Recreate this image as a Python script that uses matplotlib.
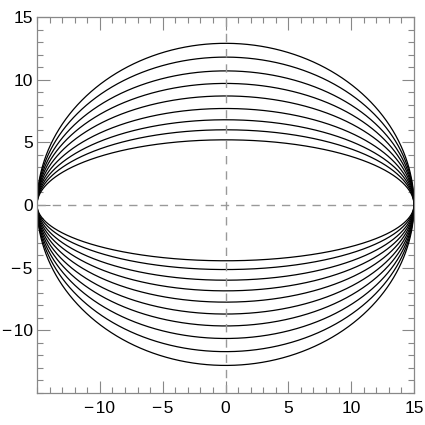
import numpy as np
import matplotlib
matplotlib.use("Agg")
import matplotlib.pyplot as plt
from matplotlib.ticker import MultipleLocator, FixedLocator

# semi-axes (heights) of upper and lower half-ellipses, half-width 15
upper_heights = [12.9, 11.8, 10.7, 9.7, 8.7, 7.7, 6.8, 6.0, 5.2]
lower_heights = [-4.45, -5.15, -6.0, -6.85, -7.75, -8.7, -9.65, -10.65, -11.7, -12.8]
half_width = 15
x_ticks = [-10, -5, 0, 5, 10, 15]
y_ticks = [-10, -5, 0, 5, 10, 15]
x_tick_labels = ['\u2212\u200a10', '\u2212\u200a5', '0', '5', '10', '15']
y_tick_labels = ['\u2212\u200a10', '\u2212\u200a5', '0', '5', '10', '15']

plt.rcParams['font.family'] = ['Liberation Sans', 'DejaVu Sans']
fig = plt.figure(figsize=(4.25, 4.25), dpi=100)
ax = fig.add_axes([37/425, 32/425, 377/425, 376/425])

x = np.linspace(-half_width, half_width, 1201)
for b in upper_heights + lower_heights:
    y = b * np.sqrt(np.clip(1 - (x/half_width)**2, 0, None))
    ax.plot(x, y, color='black', lw=0.9)

ax.axhline(0, color='#999999', lw=1.0, dashes=(6, 5))
ax.axvline(0, color='#999999', lw=1.0, dashes=(6, 5))

ax.set_xlim(-15, 15)
ax.set_ylim(-15, 15)
ax.xaxis.set_major_locator(FixedLocator(x_ticks))
ax.yaxis.set_major_locator(FixedLocator(y_ticks))
ax.set_xticklabels(x_tick_labels)
ax.set_yticklabels(y_tick_labels)
ax.xaxis.set_minor_locator(MultipleLocator(1))
ax.yaxis.set_minor_locator(MultipleLocator(1))
ax.tick_params(which='both', direction='in', top=True, right=True,
               color='#888888', width=0.8)
ax.tick_params(which='major', length=9, labelsize=12.5)
ax.tick_params(axis='x', which='major', pad=6)
ax.tick_params(axis='y', which='major', pad=3)
ax.tick_params(which='minor', length=4)
for s in ax.spines.values():
    s.set_color('#888888')
    s.set_linewidth(0.9)

fig.savefig('out.png', dpi=100)
